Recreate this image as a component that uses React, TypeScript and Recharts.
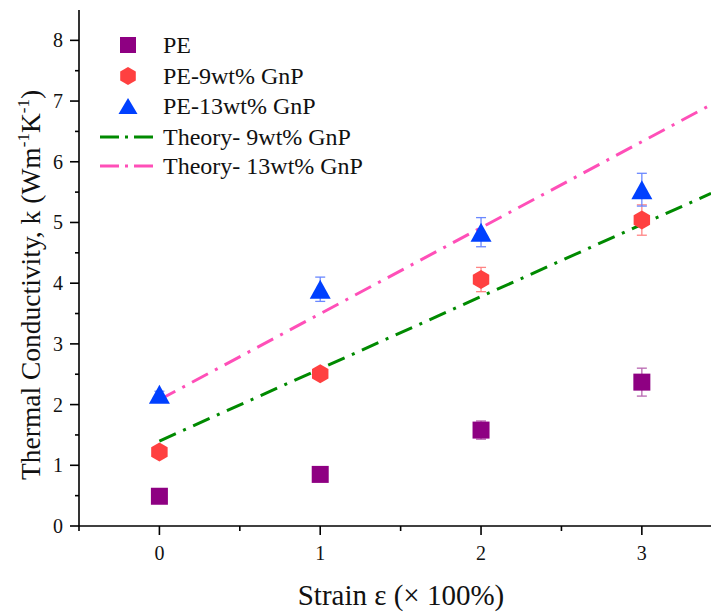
import React from 'react';
import { ScatterChart, Scatter, XAxis, YAxis, ErrorBar, Legend } from 'recharts';

// Strain levels (x 100%)
const strains = [0, 1, 2, 3];

// Measured thermal conductivity, k (W m^-1 K^-1), with error bars
const pe = [0.49, 0.85, 1.58, 2.37];
const peErr = [0.04, 0.04, 0.15, 0.23];
const gnp9 = [1.22, 2.51, 4.06, 5.04];
const gnp9Err = [0.05, 0.06, 0.2, 0.25];
const gnp13 = [2.17, 3.9, 4.84, 5.54];
const gnp13Err = [0.05, 0.2, 0.24, 0.27];

// Theory predictions (straight lines from zero strain to the right edge)
const theoryX = [0, 3.43];
const theory9 = [1.4, 5.48];
const theory13 = [2.08, 6.94];

const xTicks = [-0.5, 0, 0.5, 1, 1.5, 2, 2.5, 3];
const yTicks = [0, 0.5, 1, 1.5, 2, 2.5, 3, 3.5, 4, 4.5, 5, 5.5, 6, 6.5, 7, 7.5, 8];

const legendLabels = ['PE', 'PE-9wt% GnP', 'PE-13wt% GnP', 'Theory- 9wt% GnP', 'Theory- 13wt% GnP'];

const FONT = '"Liberation Serif", "Times New Roman", serif';
const PURPLE = '#8e0082';
const RED = '#ff4040';
const BLUE = '#0040ff';
const GREEN = '#008a00';
const PINK = '#ff4fb8';
const DASH = '18 8 3 8';

const toPoints = (ys: number[], errs?: number[]) =>
  strains.map((x, i) => ({ x, y: ys[i], err: errs ? errs[i] : 0 }));

const toLine = (ys: number[]) => theoryX.map((x, i) => ({ x, y: ys[i] }));

const hexPoints = (cx: number, cy: number, r: number) =>
  [0, 1, 2, 3, 4, 5]
    .map((i) => {
      const a = ((-90 + 60 * i) * Math.PI) / 180;
      return `${cx + r * Math.cos(a)},${cy + r * Math.sin(a)}`;
    })
    .join(' ');

// marker shapes; own prop names so the ones Recharts passes in don't clash
const Square = ({ cx, cy, side = 17 }: any) => (
  <rect x={cx - side / 2} y={cy - side / 2} width={side} height={side} fill={PURPLE} />
);

const Hexagon = ({ cx, cy, rad = 9.5 }: any) => <polygon points={hexPoints(cx, cy, rad)} fill={RED} />;

const Triangle = ({ cx, cy, tw = 21, th = 19 }: any) => (
  <polygon points={`${cx},${cy - th / 2} ${cx + tw / 2},${cy + th / 2} ${cx - tw / 2},${cy + th / 2}`} fill={BLUE} />
);

const XTick = ({ x, y, payload }: any) => {
  const major = Number.isInteger(payload.value);
  return (
    <g>
      <line x1={x} x2={x} y1={y} y2={y + (major ? 9 : 5)} stroke="#000" strokeWidth={1.6} />
      {major && (
        <text x={x} y={y + 34} textAnchor="middle" style={{ fontFamily: FONT }} fontSize={20} fill="#111">
          {payload.value}
        </text>
      )}
    </g>
  );
};

const YTick = ({ x, y, payload }: any) => {
  const major = Number.isInteger(payload.value);
  return (
    <g>
      <line x1={x} x2={x - (major ? 9 : 4)} y1={y} y2={y} stroke="#000" strokeWidth={1.6} />
      {major && (
        <text x={x - 16} y={y + 7} textAnchor="end" style={{ fontFamily: FONT }} fontSize={20} fill="#111">
          {payload.value}
        </text>
      )}
    </g>
  );
};

const YLabel = () => (
  <text
    x={40}
    y={480}
    transform="rotate(-90 40 480)"
    textAnchor="start"
    style={{ fontFamily: FONT }}
    fontSize={27.5}
    fill="#111"
  >
    Thermal Conductivity, k (Wm
    <tspan dy={-11} fontSize={17}>-1</tspan>
    <tspan dy={11}>K</tspan>
    <tspan dy={-11} fontSize={17}>-1</tspan>
    <tspan dy={11}>)</tspan>
  </text>
);

const XLabel = () => (
  <text x={401} y={605} textAnchor="middle" style={{ fontFamily: FONT }} fontSize={29} fill="#111">
    Strain ε (× 100%)
  </text>
);

const LegendBox = () => {
  const rowY = [45, 76, 106, 137, 166];
  return (
    <svg width={380} height={190} style={{ overflow: 'visible' }}>
      <Square cx={128} cy={rowY[0]} side={16} />
      <Hexagon cx={128} cy={rowY[1]} rad={9} />
      <Triangle cx={128} cy={rowY[2]} tw={19} th={16} />
      <line x1={100} x2={157} y1={rowY[3]} y2={rowY[3]} stroke={GREEN} strokeWidth={3} strokeDasharray="19 6 3 6" />
      <line x1={100} x2={157} y1={rowY[4]} y2={rowY[4]} stroke={PINK} strokeWidth={3} strokeDasharray="19 6 3 6" />
      {legendLabels.map((t, i) => (
        <text key={t} x={163} y={rowY[i] + 8} style={{ fontFamily: FONT }} fontSize={24} fill="#111">
          {t}
        </text>
      ))}
    </svg>
  );
};

const Blank = () => <g />;

export default function App() {
  return (
    <div style={{ position: 'absolute', left: 0, top: 0, background: '#fff' }}>
      <ScatterChart width={711} height={614} margin={{ top: 10, right: 0, bottom: 0, left: 0 }}>
        <XAxis
          xAxisId={0}
          type="number"
          dataKey="x"
          domain={[-0.5, 3.43]}
          ticks={xTicks}
          interval={0}
          height={88}
          tickSize={0}
          tickMargin={0}
          tickLine={false}
          tick={<XTick />}
          axisLine={{ stroke: '#000', strokeWidth: 1.6 }}
          label={<XLabel />}
        />
        <XAxis
          xAxisId="top"
          orientation="top"
          type="number"
          dataKey="x"
          domain={[-0.5, 3.43]}
          height={0}
          tick={false}
          tickLine={false}
          axisLine={{ stroke: '#000', strokeWidth: 1.6 }}
        />
        <YAxis
          type="number"
          dataKey="y"
          domain={[0, 8.5]}
          ticks={yTicks}
          interval={0}
          width={79}
          tickSize={0}
          tickMargin={0}
          tickLine={false}
          tick={<YTick />}
          axisLine={{ stroke: '#000', strokeWidth: 1.6 }}
          label={<YLabel />}
        />
        <Legend
          layout="horizontal"
          verticalAlign="middle"
          content={<LegendBox />}
          wrapperStyle={{ position: 'absolute', top: 0, left: 0, width: 380, height: 190 }}
        />
        <Scatter
          data={toLine(theory9)}
          shape={Blank}
          line={{ stroke: GREEN, strokeWidth: 3, strokeDasharray: DASH }}
          isAnimationActive={false}
          legendType="none"
        />
        <Scatter
          data={toLine(theory13)}
          shape={Blank}
          line={{ stroke: PINK, strokeWidth: 3, strokeDasharray: DASH }}
          isAnimationActive={false}
          legendType="none"
        />
        {/* error bars first so the markers sit on top of them */}
        <Scatter data={toPoints(pe, peErr)} shape={Blank} isAnimationActive={false} legendType="none">
          <ErrorBar dataKey="err" direction="y" width={5} stroke="#b866b0" strokeWidth={1.3} />
        </Scatter>
        <Scatter data={toPoints(gnp9, gnp9Err)} shape={Blank} isAnimationActive={false} legendType="none">
          <ErrorBar dataKey="err" direction="y" width={5} stroke="#ff8585" strokeWidth={1.3} />
        </Scatter>
        <Scatter data={toPoints(gnp13, gnp13Err)} shape={Blank} isAnimationActive={false} legendType="none">
          <ErrorBar dataKey="err" direction="y" width={5} stroke="#6a88ff" strokeWidth={1.3} />
        </Scatter>
        <Scatter data={toPoints(pe)} shape={<Square />} isAnimationActive={false} />
        <Scatter data={toPoints(gnp9)} shape={<Hexagon />} isAnimationActive={false} />
        <Scatter data={toPoints(gnp13)} shape={<Triangle />} isAnimationActive={false} />
      </ScatterChart>
    </div>
  );
}
